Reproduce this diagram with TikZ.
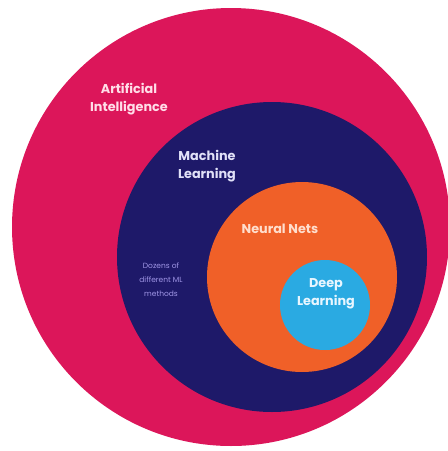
\documentclass[tikz,border=0pt]{standalone}
\usepackage{fontspec}
\setmainfont{Poppins}
\definecolor{aired}{RGB}{220,22,90}
\definecolor{mlnavy}{RGB}{30,25,105}
\definecolor{nnorange}{RGB}{240,96,40}
\definecolor{dlblue}{RGB}{42,170,226}
\definecolor{aitext}{RGB}{255,222,232}
\definecolor{mltext}{RGB}{225,225,248}
\definecolor{nntext}{RGB}{255,222,205}
\definecolor{dltext}{RGB}{232,246,255}
\definecolor{smalltext}{RGB}{160,150,230}
\tikzset{
  disc/.style={circle, inner sep=0pt, draw=none},
  lbl/.style={align=center, inner sep=0pt, font=\fontsize{12.8}{18}\selectfont\bfseries},
  smalllbl/.style={align=center, inner sep=0pt, font=\fontsize{7.5}{14}\selectfont, text=smalltext}
}
\begin{document}
\begin{tikzpicture}[x=1pt,y=-1pt]
\useasboundingbox (0,0) rectangle (448,451);
\fill[white] (0,0) rectangle (448,451);
\clip (0,0) rectangle (448,451);
\node[disc, fill=aired, minimum size=438pt] (ai) at (231,227) {};
\node[disc, fill=mlnavy, minimum size=310pt] (ml) at (272,257) {};
\node[disc, fill=nnorange, minimum size=190pt] (nn) at (302,277) {};
\node[disc, fill=dlblue, minimum size=90pt] (dl) at (325,305) {};
\node[lbl, text=aitext] (aitxt) at (129,99) {Artificial\\Intelligence};
\node[lbl, text=mltext] (mltxt) at (207,166) {Machine\\Learning};
\node[lbl, text=nntext] (nntxt) at (280,229) {Neural Nets};
\node[lbl, text=dltext] (dltxt) at (326,294) {Deep\\Learning};
\node[smalllbl] (mlsmall) at (161,280) {Dozens of\\different ML\\methods};
\end{tikzpicture}
\end{document}
